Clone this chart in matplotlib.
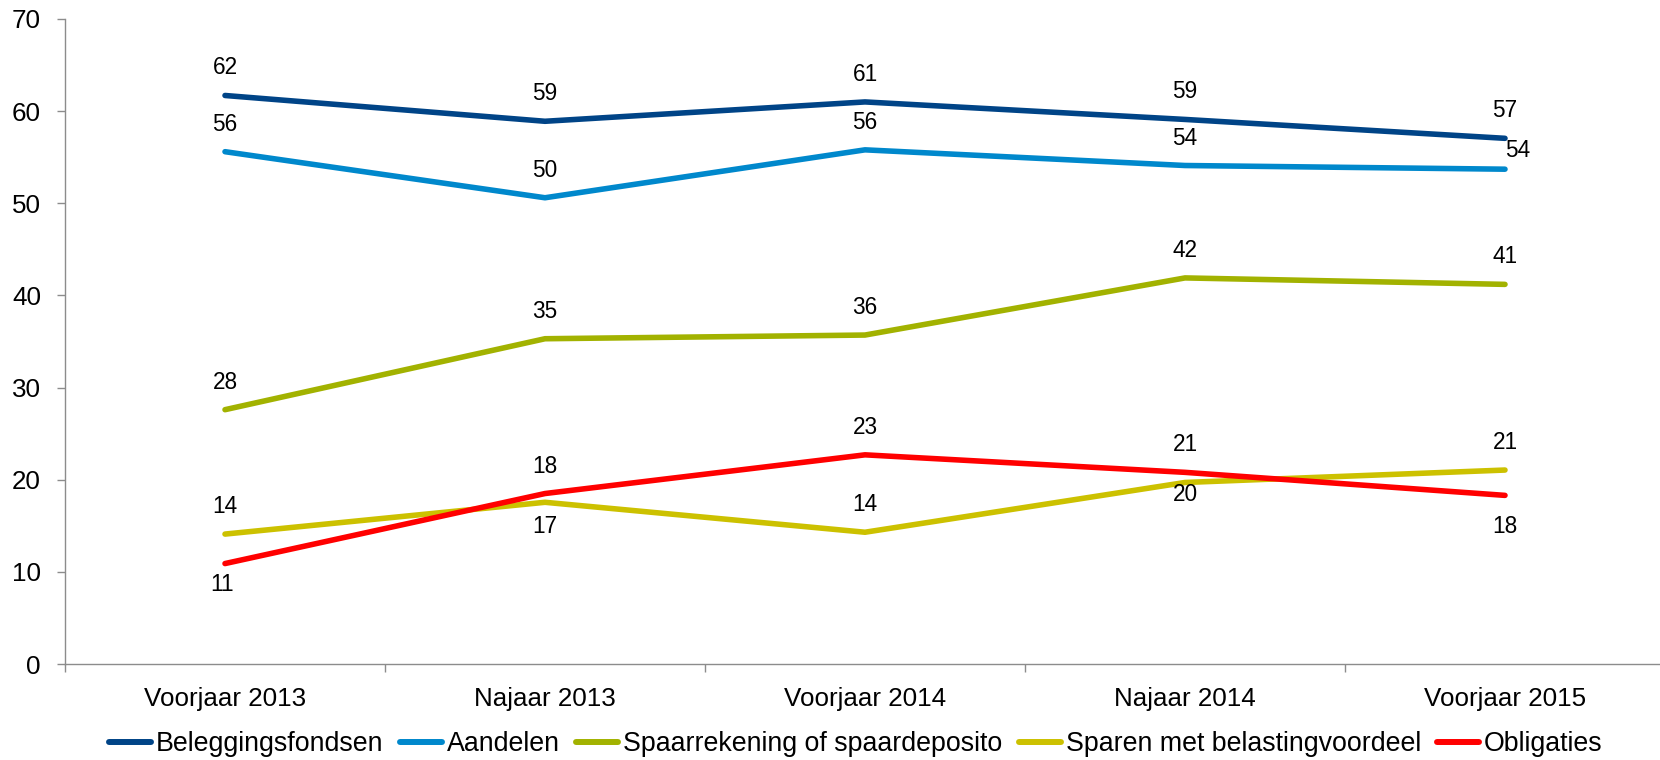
import matplotlib
matplotlib.use("Agg")
import matplotlib.pyplot as plt
from matplotlib.ticker import FixedLocator

plt.rcParams['font.family'] = ['Liberation Sans', 'DejaVu Sans']

# ---- data ----
categories = ["Voorjaar 2013", "Najaar 2013", "Voorjaar 2014", "Najaar 2014", "Voorjaar 2015"]
series_names = ["Beleggingsfondsen", "Aandelen", "Spaarrekening of spaardeposito",
                "Sparen met belastingvoordeel", "Obligaties"]
beleggingsfondsen = [61.7, 58.9, 61.0, 59.1, 57.05]
aandelen = [55.6, 50.6, 55.8, 54.1, 53.7]
spaarrekening = [27.6, 35.3, 35.7, 41.9, 41.2]
sparen_belasting = [14.1, 17.55, 14.3, 19.7, 21.05]
obligaties = [10.9, 18.5, 22.7, 20.8, 18.3]
labels_bel = ["62", "59", "61", "59", "57"]
labels_aan = ["56", "50", "56", "54", "54"]
labels_spa = ["28", "35", "36", "42", "41"]
labels_bvd = ["14", "17", "14", "20", "21"]
labels_obl = ["11", "18", "23", "21", "18"]
yticks = [0, 10, 20, 30, 40, 50, 60, 70]

# ---- styles ----
colors = ['#004487', '#0088CC', '#A2B200', '#CCC100', '#FF0000']
UP = (0, 19.8)
# label offsets (points) per series, per point
offsets = [
    [UP, UP, UP, UP, UP],
    [UP, UP, UP, UP, (9.4, 13.7)],
    [UP, UP, UP, UP, UP],
    [UP, (0, -17.5), UP, (0, -8.9), UP],
    [(-2, -14.9), UP, UP, UP, (0, -22.3)],
]

fig = plt.figure(figsize=(16.6, 7.6), dpi=100)
ax = fig.add_axes([65 / 1660, 1 - 664 / 760, 1600 / 1660, 645 / 760])

x = list(range(len(categories)))
all_series = [beleggingsfondsen, aandelen, spaarrekening, sparen_belasting, obligaties]
all_labels = [labels_bel, labels_aan, labels_spa, labels_bvd, labels_obl]

handles = []
for vals, name, col in zip(all_series, series_names, colors):
    h, = ax.plot(x, vals, color=col, lw=4.0, solid_capstyle='round',
                 solid_joinstyle='round', label=name)
    handles.append(h)

for vals, labs, offs in zip(all_series, all_labels, offsets):
    for xi, v, lab, off in zip(x, vals, labs, offs):
        ax.annotate(lab, (xi, v), xytext=off, textcoords='offset points',
                    ha='center', va='center', fontsize=16.3, color='black')

ax.set_xlim(-0.5, len(categories) - 0.5)
ax.set_ylim(0, 70)
ax.set_yticks(yticks)
ax.set_xticks(x)
ax.set_xticklabels(categories)
ax.xaxis.set_minor_locator(FixedLocator([i - 0.5 for i in range(len(categories) + 1)]))

spine_col = '#8C8C8C'
for s in ['top', 'right']:
    ax.spines[s].set_visible(False)
for s in ['left', 'bottom']:
    ax.spines[s].set_color(spine_col)
    ax.spines[s].set_linewidth(1.0)

ax.tick_params(axis='y', direction='out', length=5.8, width=1.0, color=spine_col,
               pad=11.5, labelsize=18.7, labelcolor='black')
ax.tick_params(axis='x', which='major', length=0, pad=16.5, labelsize=18.7, labelcolor='black')
ax.tick_params(axis='x', which='minor', direction='out', length=5.8, width=1.0, color=spine_col)

leg = fig.legend(handles=handles, labels=series_names, loc='center left',
                 bbox_to_anchor=(109 / 1660, 16 / 760), ncol=5, frameon=False,
                 fontsize=19.3, handlelength=1.57, handletextpad=0.19,
                 columnspacing=0.6, borderpad=0, borderaxespad=0)
for lh in leg.get_lines():
    lh.set_linewidth(4.3)
    lh.set_solid_capstyle('round')

fig.savefig('out.png', dpi=100)
